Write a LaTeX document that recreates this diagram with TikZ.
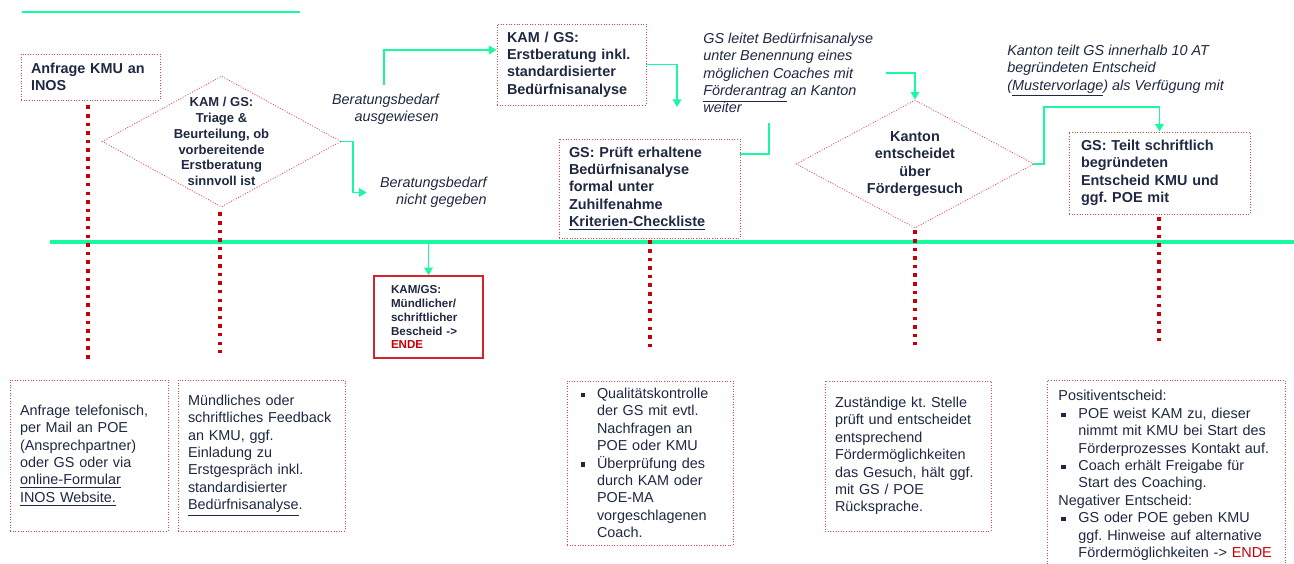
\documentclass[tikz,border=0pt]{standalone}
\usepackage{fontspec}
\setmainfont{Liberation Sans}
\usepackage{xcolor}
\definecolor{colorFlow}{RGB}{24,250,160}
\definecolor{colorFrame}{RGB}{224,72,72}
\definecolor{colorTrack}{RGB}{198,0,8}
\definecolor{colorText}{RGB}{30,40,66}
\colorlet{colorEnde}{colorTrack}
\usepackage{tikz}
\usetikzlibrary{arrows.meta, shapes.geometric}
\tikzset{
  stepbox/.style={draw=colorFrame, densely dotted, line width=0.5pt, text=colorText, align=left, inner ysep=0pt, font=\fontsize{8.2}{9.9}\selectfont},
  titlebox/.style={stepbox, font=\fontsize{8.2}{9.9}\selectfont\bfseries},
  endbox/.style={draw=colorTrack!85!white, solid, line width=0.8pt, text=colorText, align=left, inner ysep=0pt, font=\fontsize{6.6}{7.9}\selectfont\bfseries},
  decision/.style={shape=diamond, draw=colorFrame, densely dotted, line width=0.5pt, inner sep=0pt},
  decisiontext/.style={text=colorText, align=center, inner sep=0pt, font=\fontsize{8.2}{10}\selectfont\bfseries},
  remark/.style={text=colorText, inner sep=0pt, font=\fontsize{8.2}{9.9}\selectfont\itshape},
  flow/.style={draw=colorFlow, line width=1.1pt},
  track/.style={draw=colorTrack, line width=2pt, dash pattern=on 2pt off 2.9pt}
}
\newcommand{\sqbullet}[1]{\makebox[#1][l]{\rule[0.2ex]{0.55ex}{0.55ex}}}
\newcommand{\ind}[1]{\hspace*{#1}}
\frenchspacing

\begin{document}
\begin{tikzpicture}[x=0.02cm, y=-0.02cm, >={Triangle[width=4.8pt,length=4.4pt]}]
\useasboundingbox (0,0) rectangle (1294,564);
\coordinate (topL) at (22,12);
\coordinate (topR) at (300,12);
\coordinate (mainL) at (50,242);
\coordinate (mainR) at (1294,242);
\node[titlebox, minimum width=2.78cm, minimum height=0.92cm, text width=2.38cm, inner xsep=0.2cm] (anfrage) at (90.5,77) {Anfrage KMU an\\INOS};
\node[decision, minimum width=4.78cm, minimum height=2.62cm] (triage) at (221.5,141.5) {};
\node[decisiontext, font=\fontsize{7.4}{9}\selectfont\bfseries] (triagetext) at (triage) {KAM / GS:\\Triage \&\\Beurteilung, ob\\vorbereitende\\Erstberatung\\sinnvoll ist};
\node[remark, align=right, anchor=east] (ausgewiesen) at (439,109) {Beratungsbedarf\\ausgewiesen};
\node[remark, align=right, anchor=east] (nichtgegeben) at (487,192.5) {Beratungsbedarf\\nicht gegeben};
\node[titlebox, minimum width=2.98cm, minimum height=1.62cm, text width=2.58cm, inner xsep=0.2cm] (erstberatung) at (571.5,64.5) {KAM / GS:\\Erstberatung inkl.\\standardisierter\\Bedürfnisanalyse};
\node[remark, align=left, anchor=west] (antrag) at (703,73) {GS leitet Bedürfnisanalyse\\unter Benennung eines\\möglichen Coaches mit\\\underline{Förderantrag} an Kanton\\weiter};
\node[titlebox, minimum width=3.62cm, minimum height=1.98cm, text width=3.22cm, inner xsep=0.2cm] (pruefung) at (649.5,188.5) {GS: Prüft erhaltene\\Bedürfnisanalyse\\formal unter\\Zuhilfenahme\\\underline{Kriterien-Checkliste}};
\node[decision, minimum width=4.76cm, minimum height=2.56cm] (kanton) at (915,164) {};
\node[decisiontext] (kantontext) at (kanton) {Kanton\\entscheidet\\über\\Fördergesuch};
\node[remark, align=left, anchor=west] (verfuegung) at (1007,71) {Kanton teilt GS innerhalb 10 AT\\begründeten Entscheid\\(\underline{Mustervorlage}) als Verfügung mit};
\node[titlebox, minimum width=3.62cm, minimum height=1.64cm, text width=3.14cm, inner xsep=0.24cm] (bescheid) at (1159.5,173) {GS: Teilt schriftlich\\begründeten\\Entscheid KMU und\\ggf. POE mit};
\node[endbox, minimum width=2.18cm, minimum height=1.64cm, text width=1.5cm, inner xsep=0.34cm] (ende) at (428.5,317) {KAM/GS:\\Mündlicher/\\schriftlicher\\Bescheid ->\\\textcolor{colorEnde}{ENDE}};
\node[stepbox, minimum width=3.16cm, minimum height=3.02cm, text width=2.76cm, inner xsep=0.2cm] (kontakt) at (89,455.5) {Anfrage telefonisch,\\per Mail an POE\\(Ansprechpartner)\\oder GS oder via\\\underline{online-Formular}\\\underline{INOS Website.}};
\node[stepbox, minimum width=3.34cm, minimum height=3.02cm, text width=2.94cm, inner xsep=0.2cm] (feedback) at (261.5,455.5) {Mündliches oder\\schriftliches Feedback\\an KMU, ggf.\\Einladung zu\\Erstgespräch inkl.\\standardisierter\\\underline{Bedürfnisanalyse}.};
\node[stepbox, minimum width=3.32cm, minimum height=3.28cm, text width=2.76cm, inner xsep=0.28cm] (kontrolle) at (650,463) {\sqbullet{0.32cm}Qualitätskontrolle\\\ind{0.32cm}der GS mit evtl.\\\ind{0.32cm}Nachfragen an\\\ind{0.32cm}POE oder KMU\\\sqbullet{0.32cm}Überprüfung des\\\ind{0.32cm}durch KAM oder\\\ind{0.32cm}POE-MA\\\ind{0.32cm}vorgeschlagenen\\\ind{0.32cm}Coach.};
\node[stepbox, minimum width=3.32cm, minimum height=3.0cm, text width=2.92cm, inner xsep=0.2cm] (pruefstelle) at (908,456) {Zuständige kt. Stelle\\prüft und entscheidet\\entsprechend\\Fördermöglichkeiten\\das Gesuch, hält ggf.\\mit GS / POE\\Rücksprache.};
\node[stepbox, anchor=north west, text width=4.32cm, inner xsep=0.22cm, inner ysep=0.2cm] (entscheid) at (1047,380) {Positiventscheid:\\\ind{0.06cm}\sqbullet{0.34cm}POE weist KAM zu, dieser\\\ind{0.4cm}nimmt mit KMU bei Start des\\\ind{0.4cm}Förderprozesses Kontakt auf.\\\ind{0.06cm}\sqbullet{0.34cm}Coach erhält Freigabe für\\\ind{0.4cm}Start des Coaching.\\Negativer Entscheid:\\\ind{0.06cm}\sqbullet{0.34cm}GS oder POE geben KMU\\\ind{0.4cm}ggf. Hinweise auf alternative\\\ind{0.4cm}Fördermöglichkeiten -> \textcolor{colorEnde}{ENDE}};
\coordinate (c1) at (384,85);
\coordinate (c3) at (677,107);
\coordinate (c4) at (769,123);
\coordinate (c5) at (886,73);
\coordinate (t1) at (88,360);
\coordinate (t2) at (220,353);
\coordinate (t3) at (650,352);
\coordinate (t4) at (915,345);
\coordinate (t5) at (1159,342);
\draw [flow, line width=1.7pt] (topL) -- (topR);
\draw [flow, line width=2.3pt] (mainL) -- (mainR);
\draw [flow, ->] (c1) |- ([yshift=0.29cm]erstberatung.west);
\draw [flow, ->] (triage.east) -- ++(12,0) |- ([xshift=-0.26cm]nichtgegeben.west);
\draw [flow, ->] (erstberatung.east) -| (c3);
\draw [flow] (c4) |- ([yshift=0.69cm]pruefung.east);
\draw [flow, ->] (c5) -| (kanton.north);
\draw [flow, ->] (kanton.east) -- ++(10,0) |- ([yshift=0.5cm]bescheid.north) -- (bescheid.north);
\draw [flow, ->] (ende.north |- mainL) -- (ende.north);
\draw [track, shorten <=0.1cm] (anfrage.south -| t1) -- (t1);
\draw [track, shorten <=0.1cm] (triage.south -| t2) -- (t2);
\draw [track, shorten <=0.04cm] (pruefung.south -| t3) -- (t3);
\draw [track, shorten <=0.04cm] (kanton.south -| t4) -- (t4);
\draw [track, shorten <=0.06cm] (bescheid.south -| t5) -- (t5);
\end{tikzpicture}
\end{document}
